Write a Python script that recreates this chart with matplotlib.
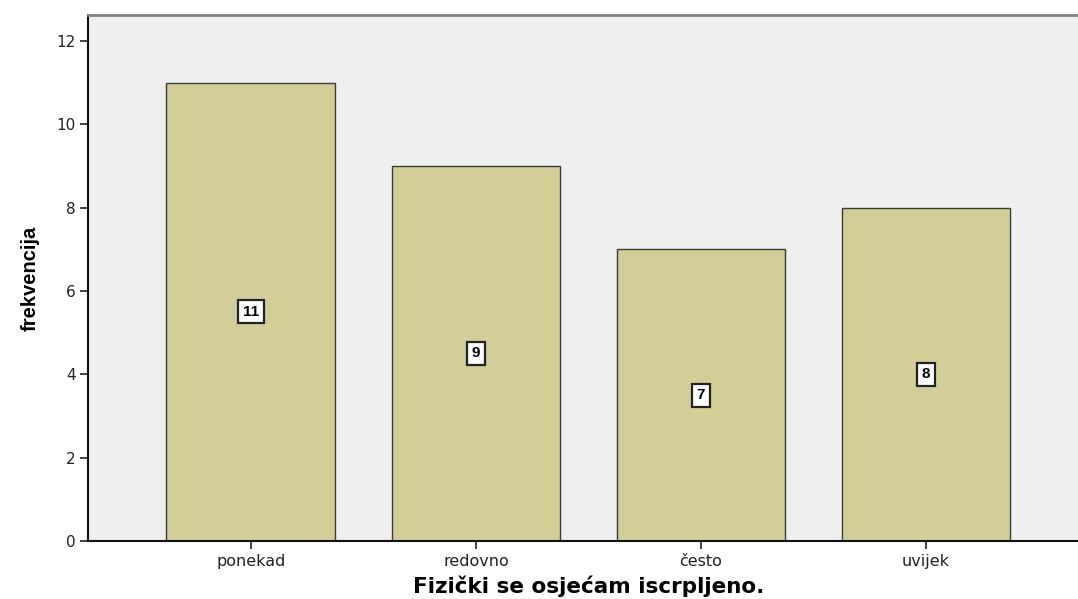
import matplotlib
matplotlib.use("Agg")
import matplotlib.pyplot as plt

# podaci
kategorije = ["ponekad", "redovno", "često", "uvijek"]
frekvencije = [11, 9, 7, 8]
y_ticks = [0, 2, 4, 6, 8, 10, 12]

plt.rcParams["font.family"] = ["DejaVu Sans"]

fig = plt.figure(figsize=(10.78, 5.99), dpi=100)
ax = fig.add_axes([0.0816, 0.0968, 0.9184, 0.8782])
ax.set_facecolor("#EFEFEF")

x = list(range(len(kategorije)))
ax.bar(x, frekvencije, width=0.75, color="#D3CE97", edgecolor="#3A3A3A", linewidth=1.0, zorder=2)

# oznake vrijednosti u sredini stupca
for xi, v in zip(x, frekvencije):
    ax.text(xi, v / 2, str(v), ha="center", va="center", fontsize=11, fontweight="bold",
            family=["Liberation Sans", "DejaVu Sans"],
            bbox=dict(boxstyle="square,pad=0.3", facecolor="white", edgecolor="#222222", linewidth=1.6),
            zorder=3)

ax.set_xlim(-0.724, 3.676)
ax.set_ylim(0, 12.62)
ax.set_xticks(x)
ax.set_xticklabels(kategorije, fontsize=11.5, color="#222222")
ax.set_yticks(y_ticks)
ax.set_yticklabels([str(t) for t in y_ticks], fontsize=11, color="#222222")
ax.tick_params(axis="both", length=6, width=1.2, color="#222222", pad=3)

ax.spines["top"].set_color("#808080")
ax.spines["top"].set_linewidth(2)
ax.spines["right"].set_visible(False)
ax.spines["left"].set_color("#111111")
ax.spines["left"].set_linewidth(1.5)
ax.spines["bottom"].set_color("#111111")
ax.spines["bottom"].set_linewidth(1.5)

ax.set_xlabel("Fizički se osjećam iscrpljeno.", fontsize=15.5, fontweight="bold")
ax.xaxis.set_label_coords(0.506, -0.066)
ax.set_ylabel("frekvencija", fontsize=14.5, fontweight="bold",
              family=["Liberation Sans Narrow", "Liberation Sans", "DejaVu Sans"], labelpad=12)

fig.savefig("out.png", dpi=100)
